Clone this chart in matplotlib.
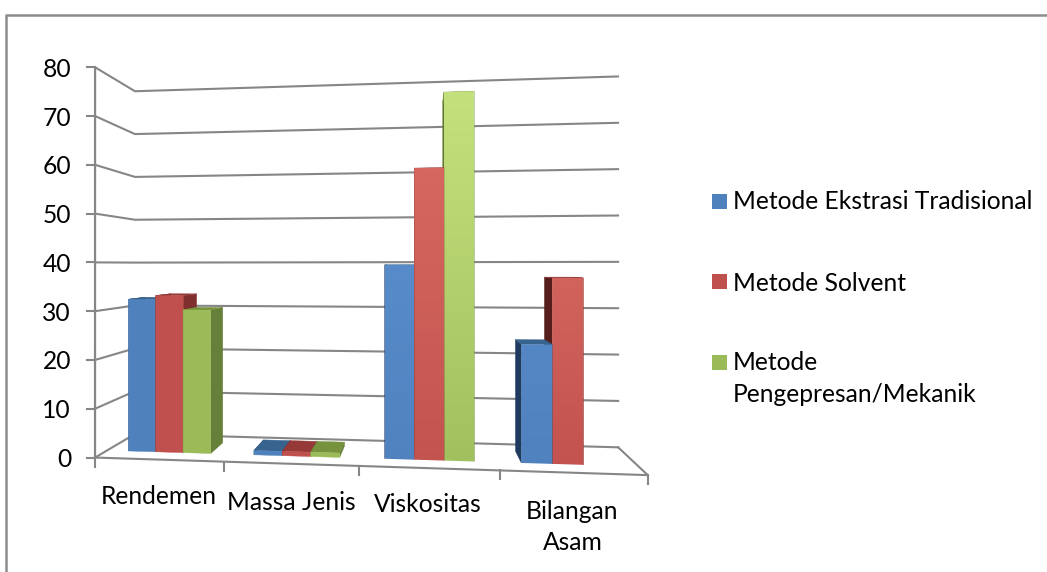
#3d column chart drawn with a small perspective camera on plain axes
import numpy as np
import matplotlib
matplotlib.use('Agg')
from matplotlib import pyplot as plt
from matplotlib.patches import Polygon

categories = ['Rendemen', 'Massa Jenis', 'Viskositas', 'Bilangan\nAsam']
series = ['Metode Ekstrasi Tradisional', 'Metode Solvent', 'Metode\nPengepresan/Mekanik']
tradisional = [32.2, 0.9, 39.4, 23.6]
solvent = [33.0, 0.9, 59.0, 36.8]
mekanik = [30.0, 0.9, 74.2, np.nan]
yticks = [0, 10, 20, 30, 40, 50, 60, 70, 80]

front = ['#4F81BD', '#C0504D', '#9BBB59']
front_light = ['#588CCB', '#D5675F', '#C4E07D']
top = ['#38638F', '#953A38', '#76923C']
side_left = ['#1F3A5F', '#561E1C', '#5F7733']
side_right = ['#2F4F78', '#7F2F2D', '#66803A']
grid_c = '#868686'

# (category position, value, depth) -> pixel, fitted on the corners of the box
ref = [((0, 0, 0), (95, 457)), ((0, 80, 0), (95, 67.5)),
       ((0, 0, 1), (135, 434.5)), ((0, 80, 1), (135, 91)),
       ((4, 0, 1), (618, 447)), ((4, 80, 1), (618, 76.5)),
       ((4, 0, 0), (648, 475)), ((1, 0, 0), (224, 461.5)),
       ((2, 0, 0), (359, 466)), ((3, 0, 0), (500, 471))]
A, b = [], []
for (u, v, w), (x, y) in ref:
    A.append([u, v, w, 1, 0, 0, 0, 0, -x*u, -x*v, -x*w])
    b.append(x)
    A.append([0, 0, 0, 0, u, v, w, 1, -y*u, -y*v, -y*w])
    b.append(y)
p = np.linalg.lstsq(np.array(A, float), np.array(b, float), rcond=None)[0]
P = np.append(p, 1).reshape(3, 4)


def proj(u, v, w):
    x, y, s = P @ np.array([u, v, w, 1.0])
    return x/s, y/s


fig = plt.figure(figsize=(10.47, 5.72), dpi=100)
ax = fig.add_axes([0, 0, 1, 1])
ax.set_xlim(0, 1047)
ax.set_ylim(572, 0)
ax.axis('off')
plt.rcParams['font.family'] = ['Lato', 'DejaVu Sans']

# outer frame, only top and left are in view
ax.plot([6, 6, 1047], [572, 15, 15], color='#8c8c8c', lw=1.8)

# walls
for t in yticks:
    pts = [proj(0, t, 0), proj(0, t, 1), proj(4, t, 1)]
    ax.plot(*zip(*pts), color=grid_c, lw=1.5, solid_joinstyle='miter')
    x0, y0 = proj(0, t, 0)
    ax.plot([x0-8, x0], [y0, y0], color=grid_c, lw=1.5)
    ax.text(71, y0+2, str(t), ha='right', va='center', fontsize=17.7, color='black')
ax.plot(*zip(proj(0, 0, 0), proj(0, 80, 0)), color=grid_c, lw=1.6)
ax.plot(*zip(proj(0, 0, 0), proj(4, 0, 0), proj(4, 0, 1)), color=grid_c, lw=1.5)
for i in range(5):
    x0, y0 = proj(i, 0, 0)
    ax.plot([x0, x0], [y0, y0+9], color=grid_c, lw=1.5)


def face(pts, c):
    ax.add_patch(Polygon(pts, closed=True, fc=c, ec=c, lw=0.3, zorder=3))


def front_face(u0, u1, w, val, i_s, shaded):
    pts = [proj(u0, 0, w), proj(u1, 0, w), proj(u1, val, w), proj(u0, val, w)]
    if not shaded:
        face(pts, front[i_s])
        return
    # lighter towards the top on the tall columns
    base = np.array(matplotlib.colors.to_rgb(front[i_s]))
    light = np.array(matplotlib.colors.to_rgb(front_light[i_s]))
    amount = min(1, val/45)
    f = np.linspace(1, 0.15, 64)[:, None, None]*amount
    img = np.clip(base[None, None, :]*(1-f) + light[None, None, :]*f, 0, 1)
    xs, ys = zip(*pts)
    im = ax.imshow(img, extent=(min(xs), max(xs), max(ys), min(ys)), aspect='auto', zorder=3)
    patch = Polygon(pts, closed=True, transform=ax.transData, fc='none', ec='none')
    ax.add_patch(patch)
    im.set_clip_path(patch)


values = [tradisional, solvent, mekanik]
bar_a, bar_b = 0.175, 0.835
w0, w1 = 0.28, 0.72
width = (bar_b-bar_a)/3
bars = []
for i in range(len(categories)):
    for s in range(3):
        val = values[s][i]
        if np.isnan(val):
            continue
        u0 = i+bar_a+s*width
        u1 = u0+width
        mid = (proj(u0, 0, w0)[0]+proj(u1, 0, w0)[0])/2
        bars.append((abs(mid-428), i, s, u0, u1, val))

# paint outermost columns first so the inner ones cover them
bars.sort(key=lambda r: -r[0])
for _, i, s, u0, u1, val in bars:
    face([proj(u0, 0, w0), proj(u0, 0, w1), proj(u0, val, w1), proj(u0, val, w0)], side_left[s])
    face([proj(u1, 0, w0), proj(u1, 0, w1), proj(u1, val, w1), proj(u1, val, w0)], side_right[s])
    face([proj(u0, val, w0), proj(u1, val, w0), proj(u1, val, w1), proj(u0, val, w1)], top[s])
    front_face(u0, u1, w0, val, s, i >= 2)

ax.set_xlim(0, 1047)
ax.set_ylim(572, 0)

# category labels
cat_x = [159, 291, 428, 572.5]
cat_y = [497, 502, 505, 527]
for name, x, y in zip(categories, cat_x, cat_y):
    ax.text(x, y, name, ha='center', va='center', fontsize=17.7, linespacing=1.45, color='black')

# legend
leg_y = [201.5, 281.5, 362.5]
text_y = [190, 272, 351]
for name, c, y, ty in zip(series, front, leg_y, text_y):
    ax.add_patch(Polygon([(712, y-7.5), (727, y-7.5), (727, y+7.5), (712, y+7.5)], fc=c, ec='none'))
    ax.text(733, ty, name, ha='left', va='top', fontsize=17.7, linespacing=1.45, color='black')

plt.savefig('out.png', dpi=100)
